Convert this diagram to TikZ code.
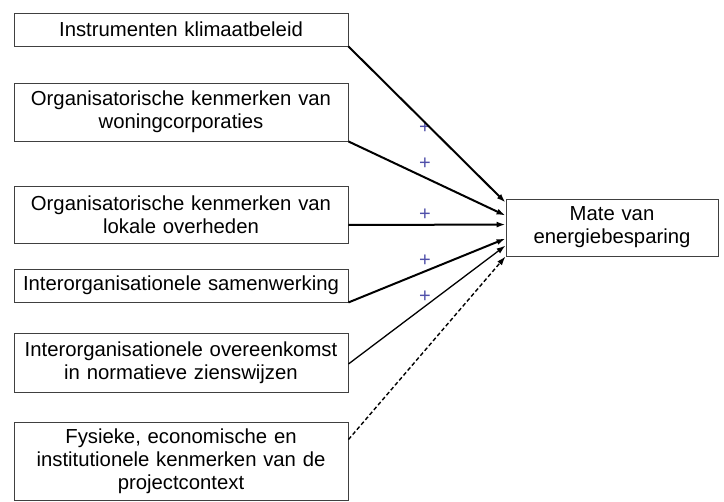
\documentclass[tikz,border=0pt]{standalone}
\usepackage{fontspec}
\setmainfont{Liberation Sans}
\usetikzlibrary{arrows.meta,shapes}
\definecolor{plusblue}{RGB}{80,80,170}
\tikzstyle{factor}=[rectangle,draw=black!75,line width=0.9pt,minimum width=334pt,text width=320pt,align=center,inner sep=0pt,font=\fontsize{20.3}{23}\selectfont]
\tikzstyle{outcome}=[rectangle,draw=black!75,line width=0.9pt,minimum width=212pt,minimum height=57pt,text width=205pt,align=center,inner sep=0pt,font=\fontsize{20.3}{23}\selectfont]
\tikzstyle{effect}=[-{Latex[length=9pt,width=6pt]}, line width=2pt]
\tikzstyle{plus}=[text=plusblue,font=\fontsize{20}{20}\selectfont]

\begin{document}
\begin{tikzpicture}[x=1pt,y=-1pt,effect]
\useasboundingbox (0,0) rectangle (724,502);
\node[factor,minimum height=33pt] (I) at (181,29.5) {Instrumenten klimaatbeleid};
\node[factor,minimum height=58pt] (W) at (181,112) {Organisatorische kenmerken van\\ woningcorporaties};
\node[factor,minimum height=57pt] (L) at (181,214.5) {Organisatorische kenmerken van\\ lokale overheden};
\node[factor,minimum height=33pt] (S) at (181,285.5) {Interorganisationele samenwerking};
\node[factor,minimum height=59pt] (O) at (181,362.5) {Interorganisationele overeenkomst\\ in normatieve zienswijzen};
\node[factor,minimum height=78pt] (F) at (181,461) {Fysieke, economische en\\ institutionele kenmerken van de\\ projectcontext};
\node[outcome] (E) at (612,227.5) {Mate van\\ energiebesparing};
\node[plus] (p1) at (425,128) {+};
\node[plus] (p2) at (425,164) {+};
\node[plus] (p3) at (425,215) {+};
\node[plus] (p4) at (425,261) {+};
\node[plus] (p5) at (425,297) {+};
\draw (I.south east)--([yshift=-4pt]E.north west);
\draw (W.south east)--([yshift=-17pt]E.north west);
\draw ([yshift=-10.5pt]L.east)--([yshift=-26pt]E.north west);
\draw (S.south east)--([yshift=-40pt]E.north west);
\draw[line width=1.3pt] ([yshift=-1.5pt]O.east)--([yshift=-47pt]E.north west);
\draw[line width=1.4pt,dash pattern=on 4pt off 2.5pt] ([yshift=-18pt]F.north east)--(E.south west);
\end{tikzpicture}
\end{document}
